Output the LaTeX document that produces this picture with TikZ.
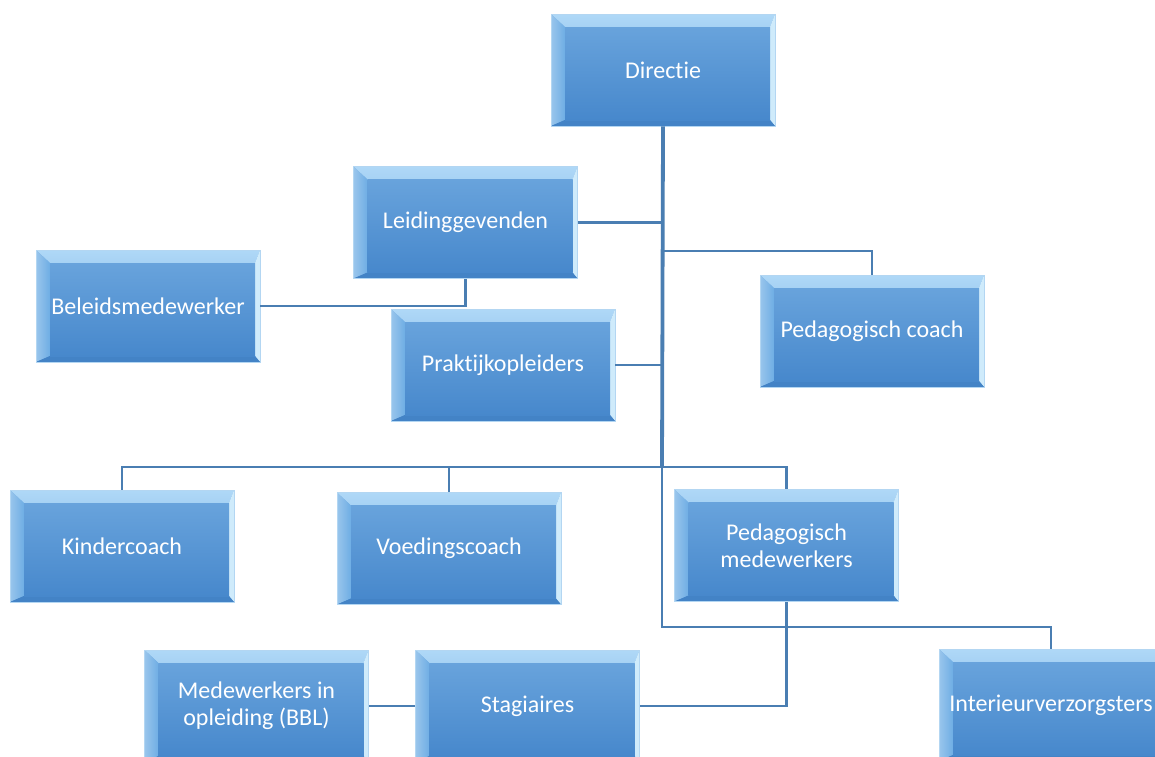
\documentclass[tikz,border=0pt]{standalone}
\usepackage{fontspec}
\setmainfont{Carlito}[Ligatures={NoCommon}]
\definecolor{boxtop}{HTML}{68A3DC}
\definecolor{boxbot}{HTML}{4788CC}
\definecolor{bevT}{HTML}{AFD8F7}
\definecolor{bevL}{HTML}{6EADE4}
\definecolor{bevR}{HTML}{CFEBFB}
\definecolor{bevB}{HTML}{4383C6}
\definecolor{edge}{HTML}{B3D6F2}
\definecolor{conn}{HTML}{4A7EB2}
\tikzset{
  orgbox/.style={rectangle, minimum width=224pt, minimum height=112pt, inner sep=0pt,
    top color=boxtop, bottom color=boxbot, draw=edge, line width=0.8pt,
    text=white, align=center, font=\fontsize{24}{27}\selectfont,
    path picture={
      \shade[top color=bevT, bottom color=boxtop] (path picture bounding box.north west) -- (path picture bounding box.north east)
        -- ([xshift=-5pt,yshift=-13pt]path picture bounding box.north east)
        -- ([xshift=14pt,yshift=-13pt]path picture bounding box.north west) -- cycle;
      \shade[left color=bevL!70!white, right color=bevL] (path picture bounding box.north west) -- ([xshift=14pt,yshift=-13pt]path picture bounding box.north west)
        -- ([xshift=14pt,yshift=6pt]path picture bounding box.south west)
        -- (path picture bounding box.south west) -- cycle;
      \fill[bevR] (path picture bounding box.north east) -- ([xshift=-5pt,yshift=-13pt]path picture bounding box.north east)
        -- ([xshift=-5pt,yshift=6pt]path picture bounding box.south east)
        -- (path picture bounding box.south east) -- cycle;
      \fill[bevB] (path picture bounding box.south west) -- ([xshift=14pt,yshift=6pt]path picture bounding box.south west)
        -- ([xshift=-5pt,yshift=6pt]path picture bounding box.south east)
        -- (path picture bounding box.south east) -- cycle;
      \shade[top color=boxtop, bottom color=boxbot]
        ([xshift=14pt,yshift=-13pt]path picture bounding box.north west) rectangle
        ([xshift=-5pt,yshift=6pt]path picture bounding box.south east);
    }},
  link/.style={draw=conn, line width=2.4pt},
  trunk/.style={draw=conn, line width=3.8pt}
}
\begin{document}
\begin{tikzpicture}[x=1pt,y=-1pt]
\useasboundingbox (0,0) rectangle (1155,756);
\fill[white] (0,0) rectangle (1155,756);
% nodes
\node[orgbox] (Dir) at (663,70) {Directie};
\node[orgbox] (Leid) at (465.5,222.5) {Leidinggevenden};
\node[orgbox] (Bel) at (148,306) {Beleidsmedewerker};
\node[orgbox] (Prak) at (503,365) {Praktijkopleiders};
\node[orgbox] (PC) at (872,331) {Pedagogisch coach};
\node[orgbox] (Kc) at (122,546) {Kindercoach};
\node[orgbox] (Vc) at (449,548.5) {Voedingscoach};
\node[orgbox] (PM) at (786.5,545.5) {Pedagogisch\\medewerkers};
\node[orgbox] (Int) at (1051,705) {Interieurverzorgsters};
\node[orgbox] (Med) at (256.5,706) {Medewerkers in\\opleiding (BBL)};
\node[orgbox] (Sta) at (527.5,706) {Stagiaires};
% junction coordinates
\coordinate (j) at (662,467);
\coordinate (jpc) at (662,251);
\coordinate (jint) at (662,627);
% connectors
\draw[link] (Leid.east) -- (Leid.east -| j);
\draw[link] (Prak.east) -- (Prak.east -| j);
\draw[link] (jpc) -| (PC.north);
\draw[link] (Leid.south) -- (Leid.south |- Bel.east) -- (Bel.east);
\draw[link] (Kc.north) -- (Kc.north |- j) -- (PM.north |- j) -- (PM.north);
\draw[link] (Vc.north) -- (Vc.north |- j);
\draw[link] (j) -- (jint) -| (Int.north);
\draw[link] (PM.south) -- (PM.south |- Sta.east) -- (Sta.east);
\draw[link] (Sta.west) -- (Med.east);
\draw[trunk] (Dir.south) -- (j);
\end{tikzpicture}
\end{document}
